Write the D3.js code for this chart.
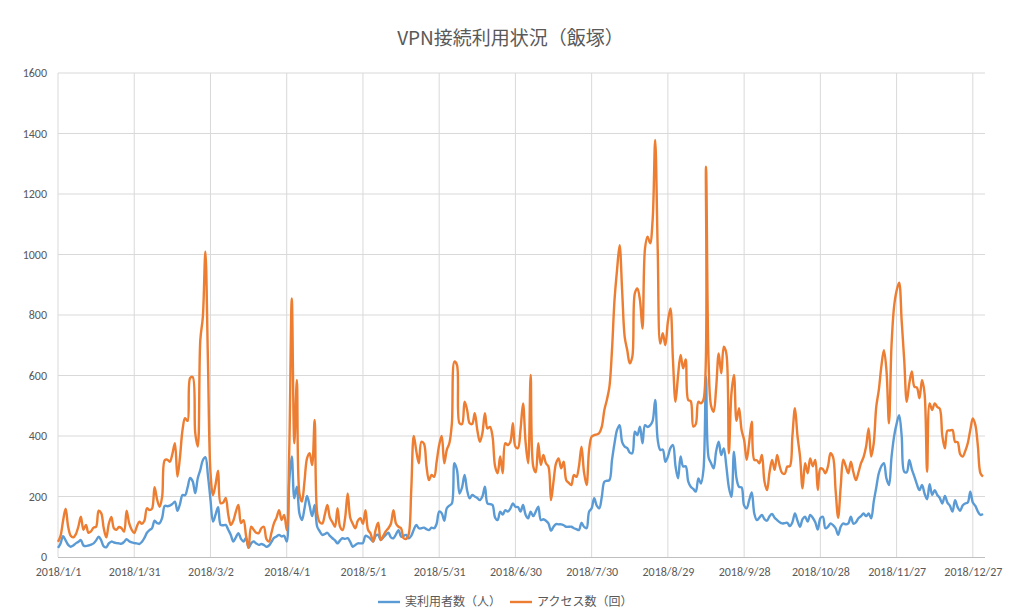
<!DOCTYPE html>
<html>
<head>
<meta charset="utf-8">
<script src="https://cdn.jsdelivr.net/npm/d3@7"></script>
<style>
  body { margin: 0; background: #fff; }
  text { font-family: "Noto Sans CJK JP", "Noto Sans", sans-serif; fill: #595959; }
</style>
</head>
<body>
<script>
const width = 1017,
      height = 616;

const title = "VPN接続利用状況（飯塚）";
const seriesNames = ["実利用者数（人）", "アクセス数（回）"];
const startDay = "2018-01-01";
const xTickLabels = ["2018/1/1", "2018/1/31", "2018/3/2", "2018/4/1", "2018/5/1", "2018/5/31",
  "2018/6/30", "2018/7/30", "2018/8/29", "2018/9/28", "2018/10/28", "2018/11/27", "2018/12/27"];
const yTicks = [0, 200, 400, 600, 800, 1000, 1200, 1400, 1600];

// 実利用者数 (daily)
const users = [
  30,45,69,55,40,34,38,45,50,56,38,36,38,41,45,55,67,55,35,32,45,51,48,46,45,44,50,59,52,48,
  46,45,43,50,63,80,89,95,120,112,112,130,169,168,170,175,183,153,175,205,204,230,261,250,211,260,288,320,330,270,
  190,117,140,165,106,105,106,90,73,51,65,79,60,51,63,30,45,51,45,40,43,40,34,38,50,63,68,73,68,70,51,
  250,332,194,232,144,122,160,202,170,135,172,100,85,73,76,80,70,62,55,45,55,62,60,62,50,34,40,45,45,46,
  70,67,60,51,70,73,56,65,73,80,65,62,75,89,67,70,73,62,70,90,106,95,95,97,92,89,97,95,110,150,
  145,120,161,170,177,310,288,210,230,271,220,194,205,200,195,188,200,232,177,175,172,130,122,150,140,155,150,160,177,166,
  165,150,172,140,128,150,135,150,166,122,125,120,111,87,100,109,108,108,105,100,100,100,95,92,89,113,100,95,150,161,
  194,170,161,199,249,252,254,320,376,420,436,380,365,360,345,343,414,403,431,376,436,430,435,450,519,387,354,355,315,332,
  360,370,300,260,332,299,300,250,232,225,216,260,243,288,596,330,310,293,350,381,337,359,300,230,199,348,260,232,230,170,161,
  188,213,144,122,130,139,125,120,135,142,130,122,115,111,112,113,102,115,144,120,100,125,133,117,139,130,115,91,128,
  133,95,100,111,105,95,73,100,111,108,111,133,110,115,128,135,144,135,144,128,183,230,277,300,310,260,238,330,398,440,
  469,400,282,280,321,290,266,240,221,238,210,191,241,205,221,205,195,177,202,180,169,150,188,165,153,170,177,180,216,180,169,150,139,142
];

// アクセス数 (daily)
const access = [
  50,70,120,160,100,70,65,75,100,133,90,106,80,85,97,100,153,145,95,65,110,132,95,90,99,95,84,153,112,90,
  79,100,117,110,120,161,155,160,231,190,166,200,320,322,315,340,376,266,330,420,459,450,592,595,410,365,717,794,1009,650,
  280,205,240,285,178,180,195,140,106,120,150,172,112,122,70,30,100,90,80,79,95,100,60,51,80,112,130,155,122,139,89,
  350,855,376,585,210,183,250,326,343,304,453,144,115,111,140,172,130,115,100,161,100,89,130,210,130,110,95,120,128,110,
  155,90,78,51,90,113,56,70,85,95,110,155,111,100,95,62,60,75,220,400,350,310,381,375,300,254,271,265,315,370,
  400,310,354,376,442,646,635,442,440,513,486,442,440,475,420,381,409,475,425,430,398,300,277,332,277,376,370,380,442,365,
  360,420,508,380,310,602,300,280,376,304,337,310,299,188,250,310,326,293,315,254,245,238,271,265,300,365,280,238,354,398,
  403,405,410,431,486,520,563,684,850,950,1031,880,728,684,640,662,872,888,850,755,1020,1059,1037,1114,1379,1015,706,740,700,778,
  822,650,513,600,668,624,653,519,515,431,440,513,508,520,1290,650,500,480,560,673,607,695,673,343,540,602,450,492,420,387,321,
  380,447,321,320,310,337,250,221,280,321,288,337,300,277,275,299,300,400,492,400,332,227,310,277,326,300,321,221,293,
  290,277,300,343,330,220,130,232,322,300,277,315,280,254,280,310,330,365,425,332,376,497,552,630,684,618,442,700,827,880,
  907,780,651,513,574,613,563,560,525,585,541,282,508,486,508,496,490,400,359,418,418,420,381,380,340,332,350,376,420,458,436,365,277,266
];

const colors = ["#5B9BD5", "#ED7D31"];

const start = d3.timeParse("%Y-%m-%d")(startDay);
const dates = users.map((d, i) => d3.timeDay.offset(start, i));
const tickDates = xTickLabels.map(s => d3.timeParse("%Y/%m/%d")(s));

const margin = { left: 58, right: 34, top: 73, bottom: 59 };

const svg = d3.select("body").append("svg")
  .attr("width", width)
  .attr("height", height);

svg.append("rect")
  .attr("width", width).attr("height", height)
  .attr("fill", "#fff");

const x = d3.scaleTime()
  .domain([start, dates[dates.length - 1]])
  .range([margin.left, width - margin.right]);

const y = d3.scaleLinear()
  .domain([0, 1600])
  .range([height - margin.bottom, margin.top]);

// horizontal grid
svg.append("g")
  .selectAll("line")
  .data(yTicks.slice(1))
  .enter().append("line")
  .attr("x1", margin.left).attr("x2", width - margin.right + 2)
  .attr("y1", d => y(d)).attr("y2", d => y(d))
  .attr("stroke", "#d9d9d9").attr("stroke-width", 1);

// vertical grid
svg.append("g")
  .selectAll("line")
  .data(tickDates)
  .enter().append("line")
  .attr("x1", d => x(d)).attr("x2", d => x(d))
  .attr("y1", margin.top).attr("y2", height - margin.bottom)
  .attr("stroke", "#d9d9d9").attr("stroke-width", 1);

// y axis labels
var yAxis = svg.append("g")
  .attr("transform", "translate(" + (margin.left - 11) + ",0)")
  .call(d3.axisLeft(y).tickValues(yTicks).tickSize(0).tickPadding(0).tickFormat(d3.format("d")));
yAxis.select(".domain").remove();
yAxis.selectAll("text")
  .style("font-family", "Calibri, Carlito, 'Liberation Sans', sans-serif")
  .style("font-size", "12px")
  .attr("fill", "#595959");

// x axis
var xAxis = svg.append("g")
  .attr("transform", "translate(0," + (height - margin.bottom) + ")")
  .call(d3.axisBottom(x).tickValues(tickDates).tickSize(0).tickPadding(10)
    .tickFormat((d, i) => xTickLabels[i]));
xAxis.select(".domain")
  .attr("stroke", "#bfbfbf")
  .attr("d", "M" + margin.left + ",0.5H" + (width - margin.right + 2));
xAxis.selectAll("text")
  .style("font-family", "Calibri, Carlito, 'Liberation Sans', sans-serif")
  .style("font-size", "12px")
  .attr("fill", "#595959");

// lines
const line = d3.line()
  .x((d, i) => x(dates[i]))
  .y(d => y(d))
  .curve(d3.curveCatmullRom.alpha(0.5));

[users, access].forEach(function (series, k) {
  svg.append("path")
    .datum(series)
    .attr("fill", "none")
    .attr("stroke", colors[k])
    .attr("stroke-width", 2.4)
    .attr("stroke-linejoin", "round")
    .attr("d", line);
});

// title
svg.append("text")
  .attr("x", width / 2 + 2)
  .attr("y", 45)
  .attr("text-anchor", "middle")
  .style("font-size", "19px")
  .text(title);

// legend
var legend = svg.append("g")
  .selectAll("g")
  .data(seriesNames)
  .enter().append("g")
  .attr("transform", (d, i) => "translate(" + (378 + i * 132) + ",602)");

legend.append("line")
  .attr("x1", 0).attr("x2", 22)
  .attr("stroke", (d, i) => colors[i])
  .attr("stroke-width", 2.4);

legend.append("text")
  .attr("x", 27)
  .attr("dy", "0.35em")
  .style("font-size", "12px")
  .text(d => d);
</script>
</body>
</html>
